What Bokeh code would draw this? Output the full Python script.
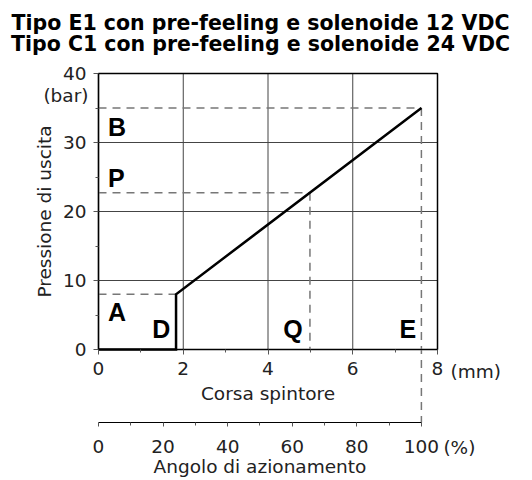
from bokeh.plotting import figure
from bokeh.models import Range1d, LinearAxis, FixedTicker, Label
from bokeh.core.properties import value
from bokeh.embed import file_html
from bokeh.resources import INLINE

# ---------------- data ----------------
title_lines = ["Tipo E1 con pre-feeling e solenoide 12 VDC",
               "Tipo C1 con pre-feeling e solenoide 24 VDC"]

stroke_mm = [0, 1.83, 1.83, 7.62]          # Corsa spintore (mm)
pressure_bar = [0, 0, 8, 35]               # Pressione di uscita (bar)

x_ticks = [0, 2, 4, 6, 8]
x_minor = [1, 3, 5, 7]
y_ticks = [0, 10, 20, 30, 40]
y_minor = [5, 15, 25, 35]
pct_ticks = [0, 20, 40, 60, 80, 100]
pct_minor = [10, 30, 50, 70, 90]

# reference points (A/D, P/Q, B/E)
ref_x = [1.83, 4.99, 7.62]
ref_y = [8, 22.7, 35]
full_stroke_mm = 7.62                      # stroke at 100 % actuation angle

letters = ["A", "B", "P", "D", "Q", "E"]
letter_x = [0.44, 0.44, 0.42, 1.48, 4.59, 7.30]
letter_y = [5.5, 32.2, 24.9, 2.9, 2.9, 2.9]

# ---------------- layout (pixels) ----------------
W, H = 530, 478
PLOT_LEFT, PLOT_W = 98, 339        # x pixel of 0 mm, width of 0..8 mm
ZERO_Y, PLOT_H = 349, 276          # y pixel of 0 bar, height of 0..40 bar
PCT_AXIS_Y = 422                   # y pixel of percentage axis

X0, X1 = x_ticks[0], x_ticks[-1]
Y0, Y1 = y_ticks[0], y_ticks[-1]
mm_per_px = (X1 - X0) / PLOT_W
bar_per_px = (Y1 - Y0) / PLOT_H

x_start = X0 - PLOT_LEFT * mm_per_px
x_end = x_start + W * mm_per_px
y_top = Y0 + ZERO_Y * bar_per_px
y_start = y_top - H * bar_per_px
y_pct = Y0 - (PCT_AXIS_Y - ZERO_Y) * bar_per_px

FONT = "DejaVu Sans"
LBL = "18.5px"
TXT = "#222222"

p = figure(width=W, height=H,
           x_range=Range1d(x_start, x_end), y_range=Range1d(y_start, y_top),
           x_axis_type=None, y_axis_type=None, title=None,
           output_backend="svg", toolbar_location=None,
           min_border=0)
p.outline_line_color = None
p.background_fill_color = "white"
p.border_fill_color = "white"
p.extra_x_ranges = {"pct": Range1d(x_start / full_stroke_mm * 100,
                                   x_end / full_stroke_mm * 100)}


def style_axis(ax):
    ax.axis_line_color = "black"
    ax.axis_line_width = 1.2
    ax.major_tick_line_color = "#555555"
    ax.minor_tick_line_color = "#555555"
    ax.major_tick_out = 5
    ax.major_tick_in = 0
    ax.minor_tick_out = 3
    ax.minor_tick_in = 0
    ax.major_label_text_font = FONT
    ax.major_label_text_font_size = LBL
    ax.major_label_text_color = TXT
    ax.axis_label_text_font = FONT
    ax.axis_label_text_font_size = LBL
    ax.axis_label_text_font_style = "normal"
    ax.axis_label_text_color = TXT


# grid (inside the 0..8 x 0..40 box)
p.segment(x0=[X0] * 3, y0=y_ticks[1:-1], x1=[X1] * 3, y1=y_ticks[1:-1],
          line_color="#444444", line_width=1)
p.segment(x0=x_ticks[1:-1], y0=[Y0] * 3, x1=x_ticks[1:-1], y1=[Y1] * 3,
          line_color="#444444", line_width=1)

# plot box
p.quad(left=[X0], right=[X1], bottom=[Y0], top=[Y1],
       fill_color=None, line_color="black", line_width=1.5)

# axes
yaxis = LinearAxis(ticker=FixedTicker(ticks=y_ticks, minor_ticks=y_minor),
                   bounds=(Y0, Y1), fixed_location=X0,
                   axis_label="Pressione di uscita")
style_axis(yaxis)
yaxis.major_label_standoff = 7
yaxis.axis_label_standoff = 5
p.add_layout(yaxis, "left")

mm_axis = LinearAxis(ticker=FixedTicker(ticks=x_ticks, minor_ticks=x_minor),
                     bounds=(X0, X1), fixed_location=Y0,
                     axis_label="Corsa spintore")
style_axis(mm_axis)
mm_axis.major_label_standoff = 7
mm_axis.axis_label_standoff = 5
p.add_layout(mm_axis, "below")

pct_axis = LinearAxis(x_range_name="pct",
                      ticker=FixedTicker(ticks=pct_ticks, minor_ticks=pct_minor),
                      bounds=(pct_ticks[0], pct_ticks[-1]), fixed_location=y_pct,
                      axis_label="Angolo di azionamento")
style_axis(pct_axis)
pct_axis.major_tick_out = 4
pct_axis.minor_tick_out = 3
pct_axis.major_label_standoff = 13
pct_axis.axis_label_standoff = 0
p.add_layout(pct_axis, "below")

# dashed reference lines
dash = dict(line_color="#777777", line_width=1.5, line_dash="8 6")
p.segment(x0=[X0] * 3, y0=ref_y, x1=ref_x, y1=ref_y, **dash)
p.segment(x0=ref_x[1:], y0=ref_y[1:], x1=ref_x[1:], y1=[Y0, y_pct], **dash)

# characteristic curve
p.line(stroke_mm, pressure_bar, line_color="black", line_width=2.5,
       line_join="miter")

# letters
p.text(x=letter_x, y=letter_y, text=letters,
       text_font=value("Liberation Sans"), text_font_style="bold",
       text_font_size="25px", text_align="center", text_baseline="middle",
       text_color="black")

# titles
title_cx = X0 + (260 - PLOT_LEFT) * mm_per_px
for i, t in enumerate(title_lines):
    p.add_layout(Label(x=title_cx, y=Y0 + (ZERO_Y - (22 + 21 * i)) * bar_per_px,
                       text=t, text_font=FONT, text_font_size="20.5px",
                       text_font_style="bold", text_color="black",
                       text_align="center", text_baseline="middle"))

# unit labels
lbl = dict(text_font=FONT, text_font_size=LBL, text_color=TXT,
           text_baseline="middle")
p.add_layout(Label(x=X0, y=Y1, text="(bar)", x_offset=-10, y_offset=-22,
                   text_align="right", **lbl))
p.add_layout(Label(x=X1, y=Y0, text="(mm)", x_offset=13, y_offset=-22,
                   text_align="left", **lbl))
p.add_layout(Label(x=pct_ticks[-1], x_range_name="pct", y=y_pct, text="(%)",
                   x_offset=22, y_offset=-25, text_align="left", **lbl))

open("out.html", "w").write(file_html(p, INLINE))
